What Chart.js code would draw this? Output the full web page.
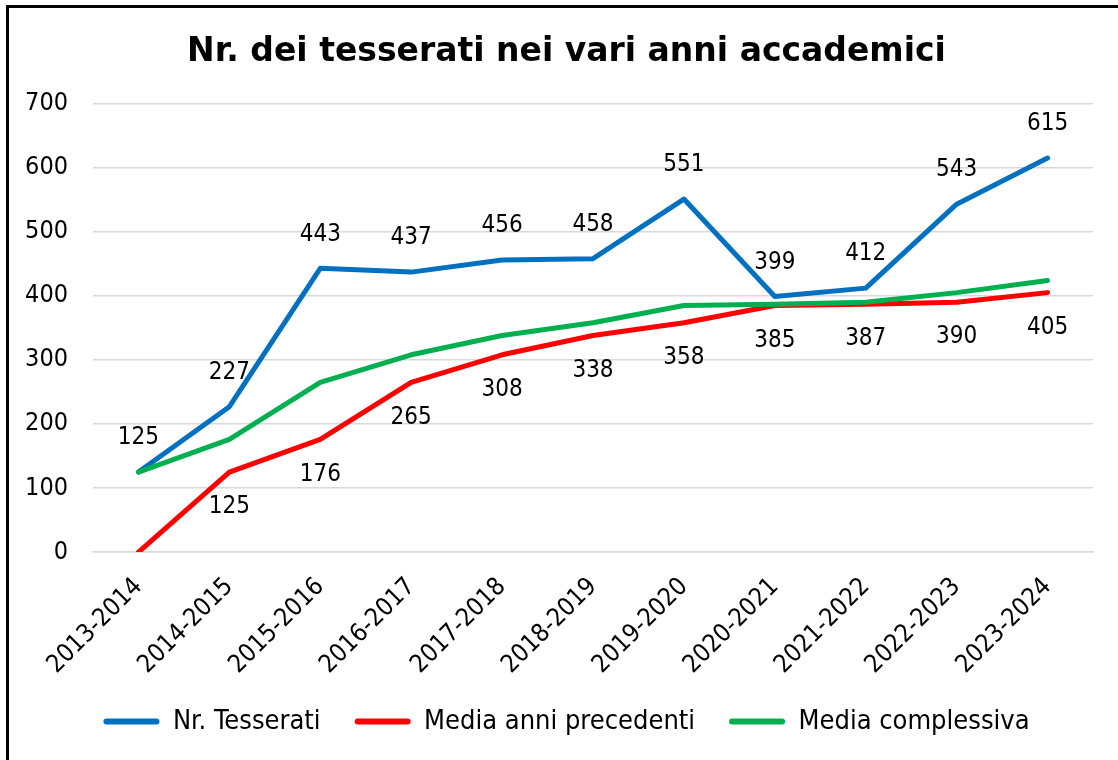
<!DOCTYPE html>
<html><head><meta charset="utf-8">
<script src="https://cdn.jsdelivr.net/npm/chart.js@4/dist/chart.umd.min.js"></script>
<style>
html,body{margin:0;padding:0;background:#fff;}
#wrap{position:absolute;left:0;top:0;width:1118px;height:760px;overflow:hidden;}
#frame{position:absolute;left:6px;top:5px;width:1200px;height:800px;border-left:3px solid #000;border-top:3px solid #000;pointer-events:none;}
canvas{position:absolute;left:0;top:0;}
</style></head>
<body>
<div id="wrap"><canvas id="c" width="1118" height="760"></canvas><div id="frame"></div></div>
<script>
const categories = ["2013-2014","2014-2015","2015-2016","2016-2017","2017-2018","2018-2019","2019-2020","2020-2021","2021-2022","2022-2023","2023-2024"];
const tesserati = [125,227,443,437,456,458,551,399,412,543,615];
const mediaPrecedenti = [0,125,176,265,308,338,358,385,387,390,405];
const mediaComplessiva = [125,176,265,308,338,358,385,387,390,405,424];
const yTicks = [0,100,200,300,400,500,600,700];

const FONT = "'DejaVu Sans Condensed','DejaVu Sans',sans-serif";

const labelPlugin = {
  id:'dlabels',
  beforeDraw(chart){
    // let rotated category labels extend below the (shortened) axis box
    chart.scales.x._computeLabelArea = function(){ return undefined; };
  },
  afterDatasetsDraw(chart){
    const ctx = chart.ctx;
    ctx.save();
    ctx.font = "24px " + FONT;
    ctx.fillStyle = '#000';
    ctx.textAlign = 'center';
    ctx.textBaseline = 'middle';
    chart.data.datasets.forEach((ds,i)=>{
      if(!ds.labelPos) return;
      const meta = chart.getDatasetMeta(i);
      meta.data.forEach((pt,j)=>{
        const v = ds.data[j];
        if(v===0) return;
        const dy = ds.labelPos==='above' ? -34 : 35;
        ctx.fillText(String(v), pt.x, pt.y+dy);
      });
    });
    ctx.restore();
  }
};

new Chart(document.getElementById('c'),{
  type:'line',
  data:{
    labels:categories,
    datasets:[
      {label:'Nr. Tesserati',data:tesserati,borderColor:'#0070C0',backgroundColor:'#0070C0',borderWidth:5,pointRadius:0,tension:0,borderCapStyle:'round',borderJoinStyle:'round',order:3,labelPos:'above'},
      {label:'Media anni precedenti',data:mediaPrecedenti,borderColor:'#FF0000',backgroundColor:'#FF0000',borderWidth:5,pointRadius:0,tension:0,borderCapStyle:'round',borderJoinStyle:'round',order:2,labelPos:'below'},
      {label:'Media complessiva',data:mediaComplessiva,borderColor:'#00B050',backgroundColor:'#00B050',borderWidth:5,pointRadius:0,tension:0,borderCapStyle:'round',borderJoinStyle:'round',order:1}
    ]
  },
  options:{
    responsive:false,
    animation:false,
    layout:{padding:{left:20,right:5,top:0,bottom:15}},
    plugins:{
      tooltip:{enabled:false},
      title:{display:true,text:'Nr. dei tesserati nei vari anni accademici',color:'#000',
        font:{family:"'DejaVu Sans',sans-serif",size:33,weight:'bold'},padding:{top:33,bottom:31}},
      legend:{position:'bottom',
        labels:{color:'#000',font:{family:FONT,size:27},boxWidth:56,boxHeight:6,padding:34,
          sort:(a,b)=>a.datasetIndex-b.datasetIndex,
          generateLabels(chart){
            return chart.data.datasets.map((ds,i)=>({text:ds.label,fillStyle:ds.borderColor,strokeStyle:ds.borderColor,lineWidth:0,borderRadius:3,datasetIndex:i,fontColor:'#000'}));
          }}}
    },
    scales:{
      x:{offset:true,
        grid:{display:false,drawTicks:false},
        border:{display:true,color:'#d9d9d9',width:1.5},
        afterFit(scale){ scale.height = scale.height - 26; },
        ticks:{color:'#000',font:{family:FONT,size:25},maxRotation:45,minRotation:45,padding:20,autoSkip:false}},
      y:{min:0,max:700,
        afterBuildTicks(axis){axis.ticks = yTicks.map(v=>({value:v}));},
        afterFit(scale){ scale.width = 73; },
        grid:{color:'#d9d9d9',lineWidth:1.5,drawTicks:false},
        border:{display:false},
        ticks:{color:'#000',font:{family:FONT,size:25},padding:25}},
      yR:{position:'right',display:true,min:0,max:700,
        afterFit(scale){ scale.width = 20; },
        grid:{display:false,drawTicks:false},
        border:{display:false},
        ticks:{display:false}}
    }
  },
  plugins:[labelPlugin]
});
</script>
</body></html>
